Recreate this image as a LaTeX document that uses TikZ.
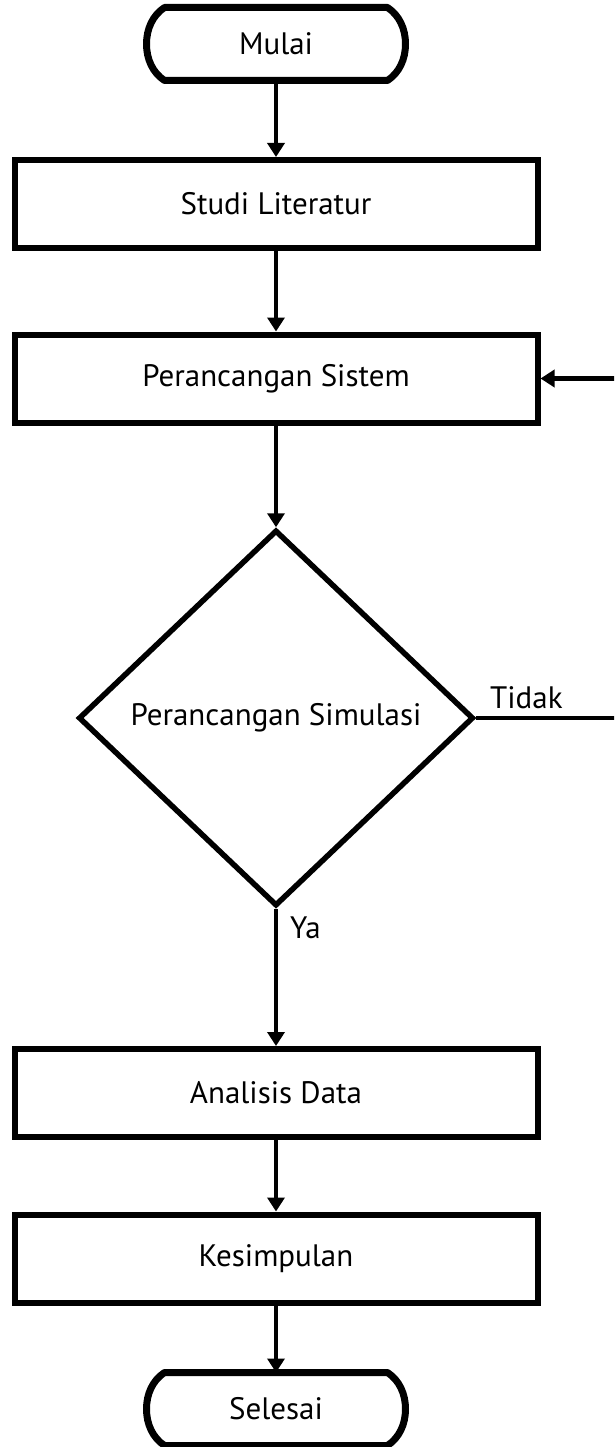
\documentclass[tikz,border=0pt]{standalone}
\usepackage{fontspec}
\setmainfont{PT Sans}
\usetikzlibrary{arrows.meta,shapes.geometric}

% rounded-end terminal outline drawn around a named node
\newcommand\termoutline[1]{%
  \draw[termline]
    ([xshift=18pt]#1.north west) -- ([xshift=-18pt]#1.north east)
    .. controls ([xshift=-6pt,yshift=-8pt]#1.north east) and ([yshift=15pt]#1.east) .. (#1.east)
    .. controls ([yshift=-15pt]#1.east) and ([xshift=-6pt,yshift=8pt]#1.south east) .. ([xshift=-18pt]#1.south east)
    -- ([xshift=18pt]#1.south west)
    .. controls ([xshift=6pt,yshift=8pt]#1.south west) and ([yshift=-15pt]#1.west) .. (#1.west)
    .. controls ([yshift=15pt]#1.west) and ([xshift=6pt,yshift=-8pt]#1.north west) .. cycle;}

\begin{document}
\begin{tikzpicture}[x=1pt,y=-1pt,
  every node/.style={font=\fontsize{31}{36}\selectfont},
  procbox/.style={draw, line width=6pt, minimum width=523pt, minimum height=88pt, inner sep=0pt},
  termnode/.style={minimum width=252pt, minimum height=66pt, inner sep=0pt, outer sep=3.5pt},
  termline/.style={line width=7pt, line join=round},
  decide/.style={draw, diamond, line width=5.5pt, minimum width=395pt, minimum height=376pt, inner sep=0pt},
  flow/.style={line width=4.5pt, -{Triangle[width=17pt,length=14pt]}},
  branch/.style={font=\fontsize{31}{36}\selectfont, inner sep=0pt},
]
\useasboundingbox (0,0) rectangle (614,1447);
\clip (0,0) rectangle (614,1447);

\node[termnode] (start) at (276,44) {Mulai};
\termoutline{start}
\node[procbox] (studi) at (276,204) {Studi Literatur};
\node[procbox] (sistem) at (276,378.5) {Perancangan Sistem};
\node[decide] (simul) at (276,718) {Perancangan Simulasi};
\node[procbox] (analisis) at (276,1093) {Analisis Data};
\node[procbox] (kesimpulan) at (276,1258.5) {Kesimpulan};
\node[termnode] (finish) at (276,1409) {Selesai};
\termoutline{finish}

\draw[flow] (start.south) -- (studi.north);
\draw[flow] (studi.south) -- (sistem.north);
\draw[flow] (sistem.south) -- (simul.north);
\draw[flow] (simul.south) -- (analisis.north);
\draw[flow] (analisis.south) -- (kesimpulan.north);
\draw[flow] (kesimpulan.south) -- (finish.north);
\draw[flow] (simul.east) -- ++(170,0) |- (sistem.east);

\node[branch, anchor=base west] (tidak) at (490,708) {Tidak};
\node[branch, anchor=base west] (ya) at (290,938) {Ya};
\end{tikzpicture}
\end{document}
